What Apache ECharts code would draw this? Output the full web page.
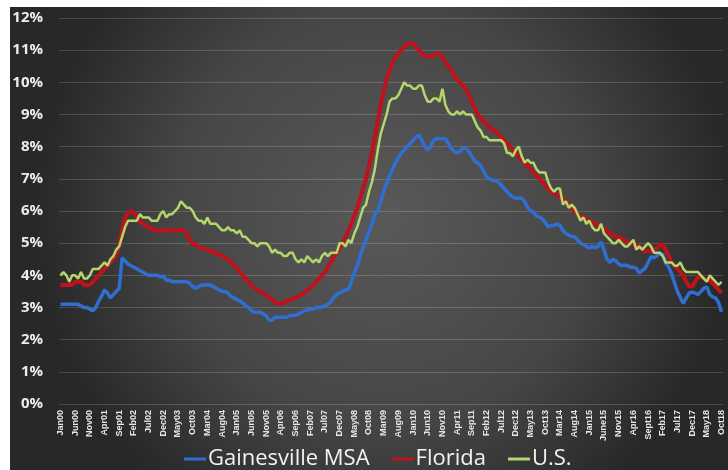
<!DOCTYPE html>
<html><head><meta charset="utf-8">
<script src="https://cdn.jsdelivr.net/npm/echarts@6/dist/echarts.min.js"></script>
<style>html,body{margin:0;padding:0;background:#fff}#c{width:728px;height:470px}</style>
</head><body><div id="c"></div>
<script>
const monthNames = ['Jan','Feb','Mar','Apr','May','Jun','Jul','Aug','Sep','Oct','Nov','Dec'];
const tickLabels = ['Jan00','Jun00','Nov00','Apr01','Sep01','Feb02','Jul02','Dec02','May03','Oct03','Mar04','Aug04','Jan05','Jun05','Nov05','Apr06','Sep06','Feb07','Jul07','Dec07','May08','Oct08','Mar09','Aug09','Jan10','Jun10','Nov10','Apr11','Sep11','Feb12','Jul12','Dec12','May13','Oct13','Mar14','Aug14','Jan15','June15','Nov15','Apr16','Sept16','Feb17','Jul17','Dec17','May18','Oct18'];
const yTicks = [0,1,2,3,4,5,6,7,8,9,10,11,12];

const gainesville = [
 3.1,3.1,3.1,3.1,3.1,3.1,3.1,3.05,3.0,3.0,2.95,2.9,
 3.0,3.2,3.35,3.55,3.45,3.3,3.4,3.5,3.6,4.55,4.45,4.35,
 4.3,4.25,4.2,4.15,4.1,4.05,4.0,4.0,4.0,4.0,3.95,3.98,
 3.85,3.85,3.8,3.8,3.8,3.8,3.8,3.8,3.75,3.65,3.6,3.65,
 3.7,3.7,3.7,3.7,3.65,3.6,3.55,3.5,3.5,3.45,3.35,3.3,
 3.25,3.2,3.15,3.05,3.0,2.9,2.85,2.85,2.85,2.8,2.75,2.6,
 2.6,2.7,2.7,2.7,2.7,2.7,2.75,2.75,2.75,2.8,2.85,2.9,
 2.92,2.95,2.95,3.0,3.0,3.02,3.05,3.1,3.17,3.3,3.4,3.45,
 3.5,3.55,3.55,3.8,4.07,4.3,4.6,4.85,5.1,5.35,5.6,5.9,
 6.0,6.3,6.6,6.85,7.1,7.3,7.5,7.65,7.8,7.9,8.0,8.1,
 8.2,8.3,8.35,8.2,8.0,7.9,8.0,8.2,8.25,8.25,8.25,8.25,
 8.1,7.95,7.85,7.8,7.85,7.95,7.95,7.85,7.7,7.55,7.5,7.4,
 7.25,7.06,7.0,6.95,6.95,6.9,6.8,6.7,6.6,6.5,6.43,6.4,
 6.4,6.4,6.3,6.1,6.03,5.95,5.85,5.81,5.75,5.65,5.5,5.55,
 5.55,5.6,5.55,5.4,5.3,5.25,5.2,5.2,5.1,5.0,4.95,4.9,
 4.85,4.9,4.85,4.9,5.04,4.8,4.5,4.41,4.5,4.45,4.35,4.3,
 4.32,4.3,4.25,4.25,4.22,4.07,4.15,4.22,4.4,4.57,4.55,4.6,
 4.69,4.65,4.38,4.26,4.05,3.76,3.5,3.3,3.13,3.3,3.45,3.48,
 3.45,3.4,3.5,3.6,3.64,3.4,3.33,3.3,3.15,2.86
];
const florida = [
 3.7,3.7,3.7,3.7,3.7,3.8,3.8,3.8,3.7,3.7,3.7,3.8,
 3.9,4.0,4.1,4.2,4.3,4.4,4.5,4.65,4.9,5.4,5.8,5.95,
 6.0,5.95,5.8,5.7,5.6,5.55,5.5,5.45,5.4,5.4,5.4,5.4,
 5.4,5.4,5.4,5.4,5.4,5.4,5.4,5.3,5.1,5.0,4.95,4.9,
 4.85,4.8,4.8,4.75,4.7,4.7,4.65,4.6,4.55,4.5,4.4,4.3,
 4.25,4.1,4.0,3.9,3.8,3.7,3.6,3.55,3.5,3.45,3.4,3.3,
 3.25,3.15,3.15,3.1,3.15,3.2,3.25,3.25,3.3,3.35,3.4,3.45,
 3.55,3.6,3.7,3.8,3.9,4.0,4.1,4.25,4.4,4.55,4.7,4.85,
 5.0,5.2,5.4,5.6,5.85,6.1,6.4,6.7,7.0,7.4,7.8,8.3,
 8.8,9.3,9.7,10.1,10.4,10.6,10.8,10.9,11.0,11.1,11.2,11.2,
 11.2,11.1,11.0,10.9,10.8,10.8,10.8,10.8,10.9,10.9,10.8,10.6,
 10.5,10.4,10.2,10.1,10.0,9.9,9.8,9.6,9.4,9.2,9.0,8.9,
 8.8,8.7,8.6,8.5,8.5,8.4,8.3,8.2,8.1,8.0,7.9,7.8,
 7.7,7.6,7.5,7.4,7.3,7.2,7.1,7.0,6.9,6.8,6.7,6.6,
 6.55,6.5,6.45,6.4,6.3,6.2,6.1,6.0,5.9,5.85,5.8,5.75,
 5.7,5.65,5.6,5.55,5.5,5.45,5.4,5.3,5.25,5.2,5.2,5.15,
 5.1,5.05,5.0,4.95,4.95,4.9,4.8,4.75,4.75,4.75,4.8,4.85,
 4.95,4.95,4.8,4.6,4.4,4.3,4.2,4.1,4.0,3.8,3.65,3.65,
 3.8,3.95,3.95,3.9,3.85,3.85,3.75,3.65,3.55,3.45
];
const us = [
 4.0,4.1,4.0,3.8,4.0,4.0,3.9,4.1,3.9,3.9,4.0,4.2,
 4.2,4.2,4.3,4.4,4.3,4.5,4.6,4.8,4.9,5.2,5.5,5.7,
 5.7,5.7,5.7,5.9,5.8,5.8,5.8,5.7,5.7,5.7,5.9,6.0,
 5.8,5.9,5.9,6.0,6.1,6.3,6.2,6.1,6.1,6.0,5.8,5.7,
 5.7,5.6,5.8,5.6,5.6,5.6,5.5,5.4,5.4,5.5,5.4,5.4,
 5.3,5.4,5.2,5.2,5.1,5.0,5.0,4.9,5.0,5.0,5.0,4.9,
 4.7,4.8,4.7,4.7,4.6,4.6,4.7,4.7,4.5,4.4,4.5,4.4,
 4.6,4.5,4.4,4.5,4.4,4.6,4.7,4.6,4.7,4.7,4.7,5.0,
 5.0,4.9,5.1,5.0,5.3,5.5,5.8,6.1,6.2,6.6,6.9,7.3,
 7.9,8.4,8.7,9.0,9.4,9.5,9.5,9.6,9.8,10.0,9.9,9.9,
 9.8,9.8,9.9,9.9,9.6,9.4,9.4,9.5,9.5,9.4,9.8,9.3,
 9.1,9.0,9.0,9.1,9.0,9.1,9.0,9.0,9.0,8.8,8.6,8.5,
 8.3,8.3,8.2,8.2,8.2,8.2,8.2,8.1,7.8,7.8,7.7,7.9,
 8.0,7.7,7.5,7.6,7.5,7.5,7.3,7.2,7.2,7.2,6.9,6.7,
 6.6,6.7,6.7,6.2,6.3,6.1,6.2,6.1,5.9,5.7,5.8,5.6,
 5.7,5.5,5.4,5.4,5.6,5.3,5.2,5.1,5.0,5.0,5.1,5.0,
 4.9,4.9,5.0,5.1,4.8,4.9,4.8,4.9,5.0,4.9,4.7,4.7,
 4.7,4.6,4.4,4.4,4.4,4.3,4.3,4.4,4.2,4.1,4.1,4.1,
 4.1,4.1,4.0,3.9,3.8,4.0,3.9,3.8,3.7,3.8
];

const categories = [];
for (let i = 0; i < us.length; i++) {
  categories.push(monthNames[i % 12] + String(Math.floor(i / 12)).padStart(2, '0'));
}

const chart = echarts.init(document.getElementById('c'), null, {renderer: 'canvas'});
chart.setOption({
  animation: false,
  backgroundColor: '#ffffff',
  graphic: {
    elements: [{
      type: 'rect', z: -10, silent: true,
      shape: {x: 10, y: 7, width: 718, height: 463},
      style: {fill: new echarts.graphic.RadialGradient(0.52, 0.45, 0.75, [
        {offset: 0, color: '#595959'},
        {offset: 0.6, color: '#464646'},
        {offset: 1, color: '#282828'}
      ])}
    }]
  },
  grid: {left: 59, right: 5, top: 18, bottom: 66, containLabel: false},
  legend: {
    left: 179, top: 443,
    itemWidth: 22, itemHeight: 3, itemGap: 22,
    icon: 'rect',
    textStyle: {color: '#f2f2f2', fontSize: 22, fontFamily: 'Open Sans', padding: [0,0,0,-3]},
    data: ['Gainesville MSA', 'Florida', 'U.S.']
  },
  xAxis: {
    type: 'category', boundaryGap: true, data: categories,
    axisLine: {show: false}, axisTick: {show: false},
    axisLabel: {
      interval: 4, rotate: 90, margin: 6, color: '#e8e8e8',
      fontSize: 9, fontWeight: 'bold', fontFamily: 'Liberation Sans Narrow, Liberation Sans',
      formatter: function (v, i) { return tickLabels[Math.round(i / 5)] || ''; }
    },
    splitLine: {show: false}
  },
  yAxis: {
    type: 'value', min: yTicks[0], max: yTicks[yTicks.length - 1], interval: 1,
    axisLine: {show: false}, axisTick: {show: false},
    axisLabel: {color: '#ededed', fontSize: 15, fontWeight: 'bold', fontFamily: 'Open Sans', margin: 16,
      formatter: function (v) { return v + '%'; }},
    splitLine: {lineStyle: {color: 'rgba(255,255,255,0.16)', width: 1}}
  },
  series: [
    {name: 'Gainesville MSA', type: 'line', data: gainesville, showSymbol: false, symbol: 'none',
     lineStyle: {color: '#2f6fd2', width: 3.5}, itemStyle: {color: '#2f6fd2'}, z: 2},
    {name: 'Florida', type: 'line', data: florida, showSymbol: false, symbol: 'none',
     lineStyle: {color: '#c0121b', width: 4}, itemStyle: {color: '#c0121b'}, z: 3},
    {name: 'U.S.', type: 'line', data: us, showSymbol: false, symbol: 'none',
     lineStyle: {color: '#b3d76a', width: 2.5}, itemStyle: {color: '#b3d76a'}, z: 4}
  ]
});
</script></body></html>
